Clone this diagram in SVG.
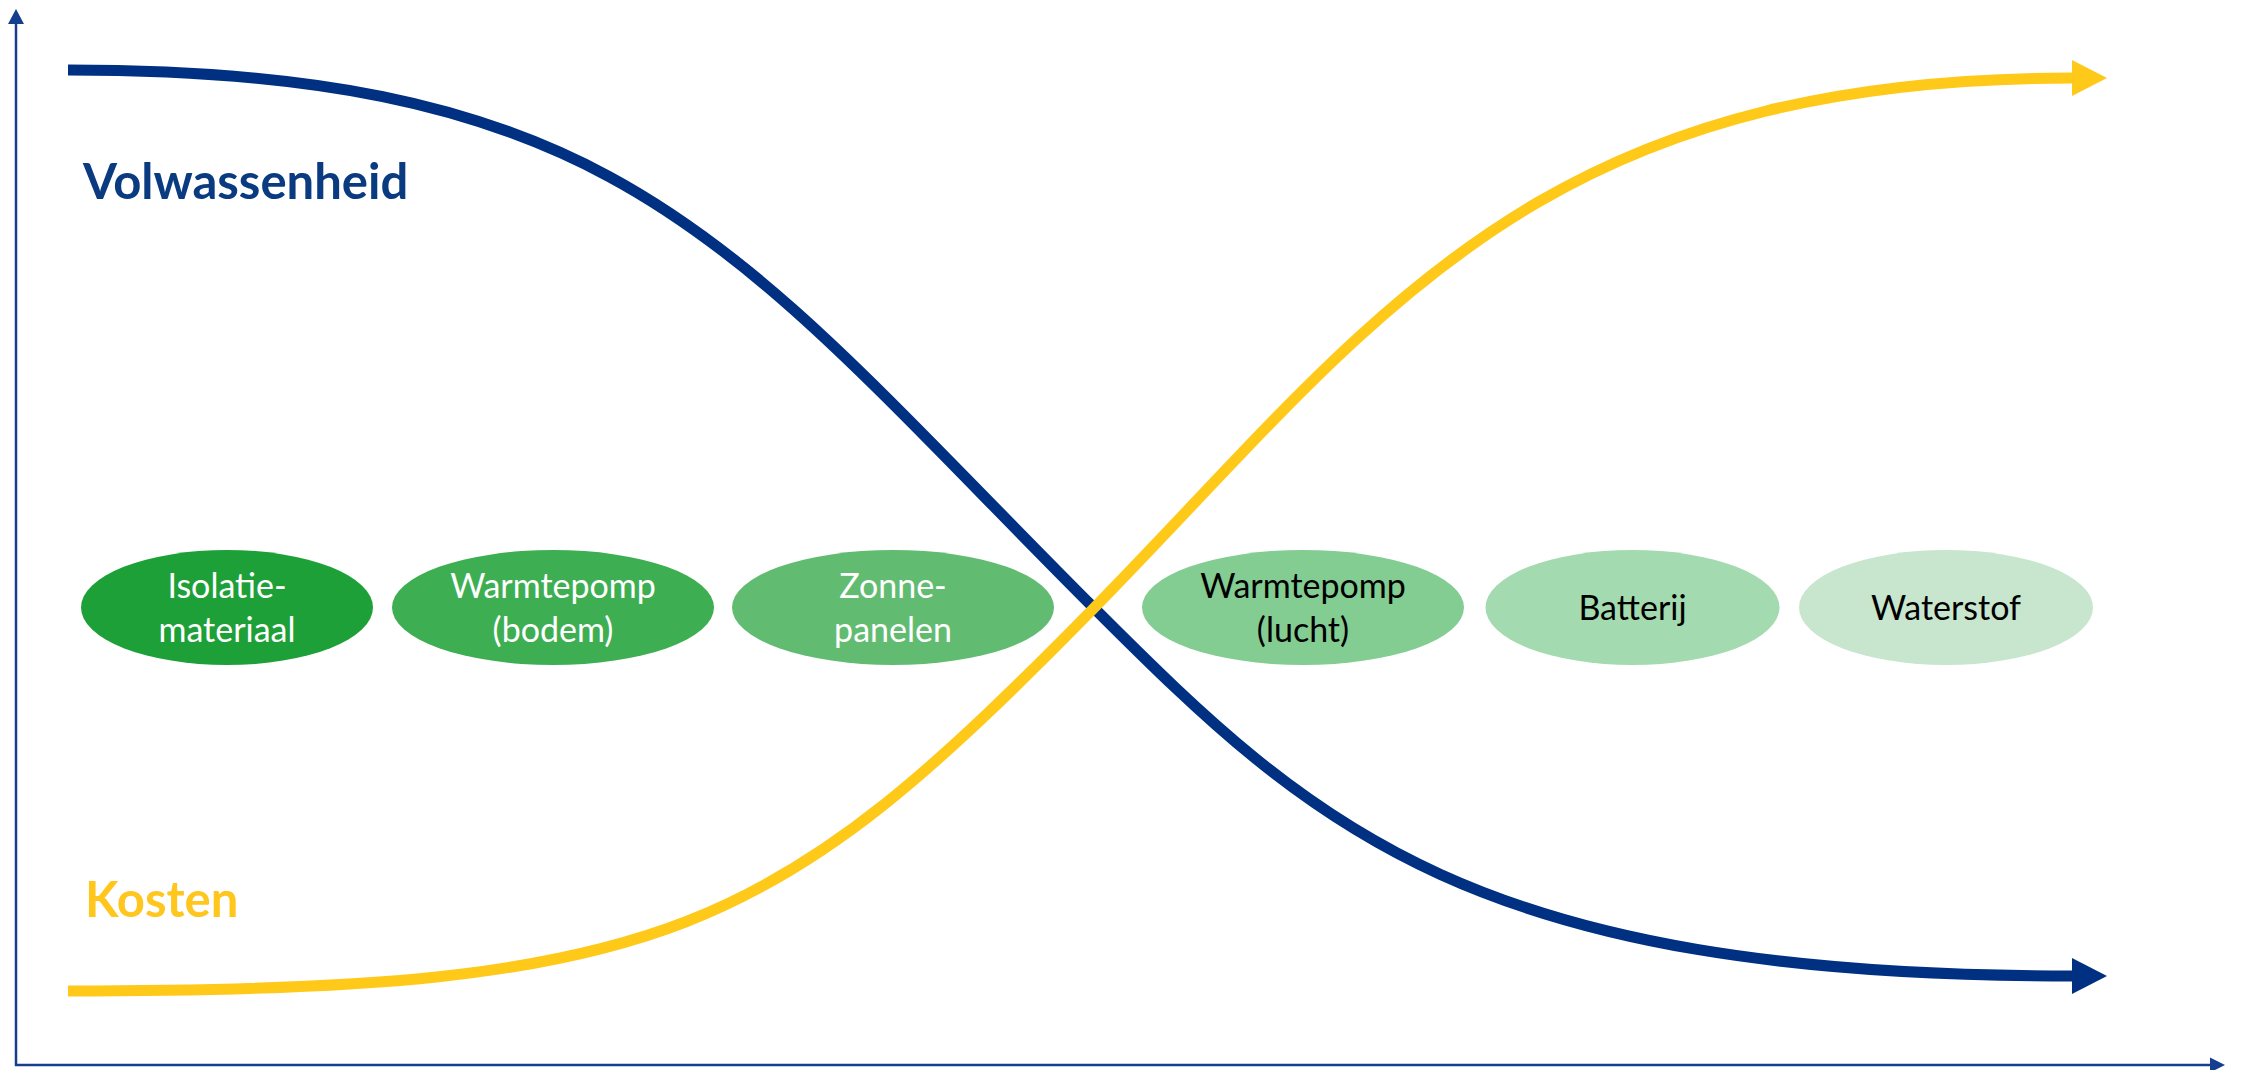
<svg xmlns="http://www.w3.org/2000/svg" width="2244" height="1070" viewBox="0 0 2244 1070">
<style>
.axis{stroke:#163E8F;stroke-width:2.5;fill:none}
.axhead{fill:#163E8F}
.curve{fill:none;stroke-width:11;stroke-linecap:butt}
.blue{stroke:#003082}
.yellow{stroke:#FFC919}
.lbl{font-family:Lato,"Open Sans","Liberation Sans",sans-serif;font-weight:bold;font-size:49px}
.nt{font-family:Lato,"Open Sans","Liberation Sans",sans-serif;font-size:34px;text-anchor:middle}
.w{fill:#FFFFFF}
.k{fill:#000000}
</style>
<defs>
<marker id="ahBlue" markerUnits="userSpaceOnUse" markerWidth="36" markerHeight="38" refX="0" refY="18" orient="auto"><path d="M0,0 L35,18 L0,36 Z" fill="#003082"/></marker>
<marker id="ahYellow" markerUnits="userSpaceOnUse" markerWidth="36" markerHeight="38" refX="0" refY="18" orient="auto"><path d="M0,0 L35,18 L0,36 Z" fill="#FFC919"/></marker>
</defs>
<rect width="2244" height="1070" fill="#FFFFFF"/>
<g id="axes">
<line class="axis" x1="16" y1="22" x2="16" y2="1066"/>
<polygon class="axhead" points="8,24 16,9 24,24"/>
<line class="axis" x1="15" y1="1065" x2="2212" y2="1065"/>
<polygon class="axhead" points="2210,1057.5 2225,1065 2210,1072.5"/>
</g>
<g id="nodes">
<g id="n-isolatie"><ellipse cx="227" cy="607.5" rx="146" ry="57.5" fill="#1EA038"/><text class="nt w" x="227" y="598">Isolatie-</text><text class="nt w" x="227" y="642">materiaal</text></g>
<g id="n-wp-bodem"><ellipse cx="553" cy="607.5" rx="161" ry="57.5" fill="#3EAE52"/><text class="nt w" x="553" y="598">Warmtepomp</text><text class="nt w" x="553" y="642">(bodem)</text></g>
<g id="n-zonne"><ellipse cx="893" cy="607.5" rx="161" ry="57.5" fill="#61BC72"/><text class="nt w" x="893" y="598">Zonne-</text><text class="nt w" x="893" y="642">panelen</text></g>
<g id="n-wp-lucht"><ellipse cx="1303" cy="607.5" rx="161" ry="57.5" fill="#83CC92"/><text class="nt k" x="1303" y="598">Warmtepomp</text><text class="nt k" x="1303" y="642">(lucht)</text></g>
<g id="n-batterij"><ellipse cx="1632.5" cy="607.5" rx="147" ry="57.5" fill="#A3DAAF"/><text class="nt k" x="1632.5" y="620">Batterij</text></g>
<g id="n-waterstof"><ellipse cx="1946" cy="607.5" rx="147" ry="57.5" fill="#C7E6CD"/><text class="nt k" x="1946" y="620">Waterstof</text></g>
</g>
<g id="connectors">
<path id="c-volwassenheid" class="curve blue" marker-end="url(#ahBlue)" d="M68,70 C628,70 734,248 1094,608 C1314,828 1472,976 2072,976"/>
<path id="c-kosten" class="curve yellow" marker-end="url(#ahYellow)" d="M68,991 C668,991 774,934 1094,608 C1374,322.4 1530,78 2072,78"/>
</g>
<g id="labels">
<text class="lbl" x="83" y="199" fill="#0A3B80">Volwassenheid</text>
<text class="lbl" x="85" y="917" fill="#FFC61E">Kosten</text>
</g>
</svg>
